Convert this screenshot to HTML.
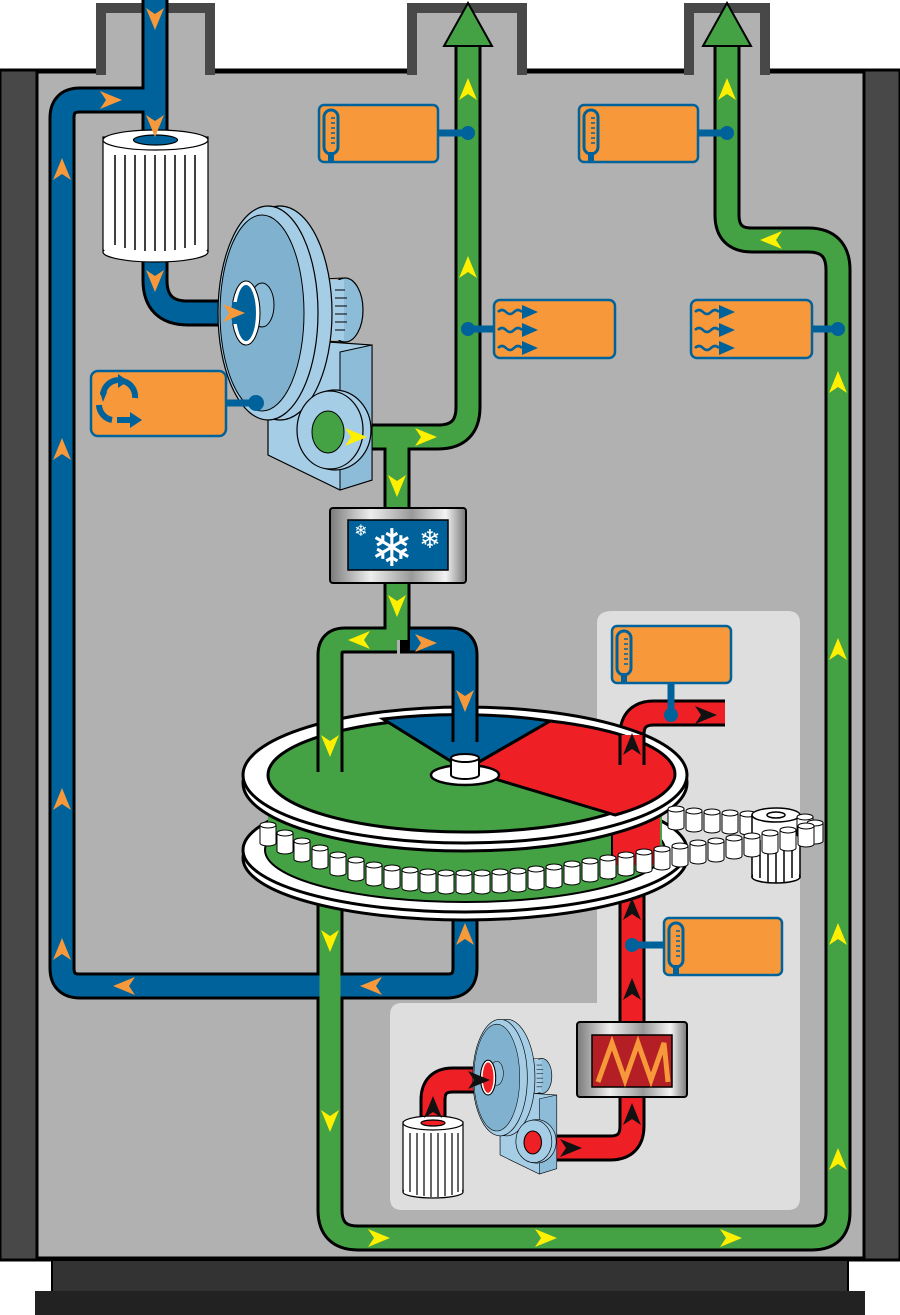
<!DOCTYPE html>
<html><head><meta charset="utf-8"><style>html,body{margin:0;padding:0;background:#fff}svg{display:block}</style></head>
<body>
<svg width="900" height="1315" viewBox="0 0 900 1315" xmlns="http://www.w3.org/2000/svg">
<defs>
<path id="ar" d="M0,-12 L9,10 L0,4 L-9,10Z"/>
<g id="cy"><rect x="-8" y="-9" width="16" height="18" fill="#fff" stroke="#000" stroke-width="1"/><ellipse cx="0" cy="9" rx="8" ry="3" fill="#fff" stroke="#000" stroke-width="1"/><rect x="-7.5" y="-8" width="15" height="17" fill="#fff"/><ellipse cx="0" cy="-9" rx="8" ry="3" fill="#fff" stroke="#000" stroke-width="1"/></g>
<linearGradient id="met" x1="0" x2="1" y1="0" y2="0">
<stop offset="0" stop-color="#7a7a7a"/><stop offset="0.3" stop-color="#eee"/><stop offset="0.6" stop-color="#999"/><stop offset="0.85" stop-color="#f4f4f4"/><stop offset="1" stop-color="#777"/></linearGradient>
<g id="fan">
<polygon points="268,400 300,340 372,345 372,480 340,490 268,455" fill="#a5cde6" stroke="#000" stroke-width="1.2"/>
<polygon points="340,352 372,345 372,480 340,490" fill="#8dbcd9" stroke="#000" stroke-width="1"/>
<ellipse cx="345" cy="310" rx="18" ry="32" fill="#8dbcd9" stroke="#000" stroke-width="1.2"/>
<rect x="320" y="280" width="24" height="60" fill="#a5cde6"/>
<line x1="320" y1="279" x2="344" y2="278" stroke="#000"/><line x1="320" y1="341" x2="344" y2="342" stroke="#000"/>
<g stroke="#000" stroke-width="1"><line x1="335" y1="290" x2="345" y2="290"/><line x1="335" y1="298" x2="347" y2="298"/><line x1="335" y1="306" x2="347" y2="306"/><line x1="335" y1="314" x2="347" y2="314"/><line x1="335" y1="322" x2="347" y2="322"/><line x1="335" y1="330" x2="345" y2="330"/></g>
<ellipse cx="280" cy="313" rx="52" ry="107" fill="#a5cde6" stroke="#000" stroke-width="1.2"/>
<ellipse cx="268" cy="313" rx="50" ry="107" fill="#a5cde6" stroke="#000" stroke-width="1.2"/>
<ellipse cx="262" cy="313" rx="42" ry="98" fill="#80b2cf" stroke="#000" stroke-width="1"/>
<ellipse cx="262" cy="305" rx="12" ry="22" fill="#8dbcd9" stroke="#000" stroke-width="1"/>
<ellipse cx="335" cy="430" rx="36" ry="40" fill="#a5cde6" stroke="#000" stroke-width="1.2"/>
<ellipse cx="330" cy="430" rx="33" ry="39" fill="#a5cde6" stroke="#000" stroke-width="1.2"/>
</g>
</defs>
<rect x="0" y="70" width="900" height="1190" fill="#484848" stroke="#000" stroke-width="3"/>
<rect x="37" y="72" width="827" height="1186" fill="#b1b1b1" stroke="#000" stroke-width="3"/>
<g fill="#b1b1b1" stroke="#484848" stroke-width="10">
<path d="M101,75 V8 H210 V75"/><path d="M412,75 V8 H522 V75"/><path d="M689,75 V8 H765 V75"/>
</g>
<rect x="52" y="1260" width="796" height="32" fill="#333" stroke="#000" stroke-width="2"/>
<rect x="35" y="1291" width="830" height="24" fill="#222"/>
<path d="M612,611 H788 Q800,611 800,623 V1198 Q800,1210 788,1210 H402 Q390,1210 390,1198 V1015 Q390,1003 402,1003 H597 V623 Q597,611 612,611Z" fill="#dedede"/>
<g fill="none" stroke-linejoin="round">
<g stroke="#000" stroke-width="27">
<path d="M155,0 V135"/>
<path d="M155,100 H80 Q62,100 62,118 V968 Q62,986 80,986 H447 Q465,986 465,968 V910"/>
<path d="M155,255 V280 Q155,313 188,313 H245"/>
<path d="M345,437 H438 Q468,437 468,407 V45"/>
<path d="M397,437 V640"/>
<path d="M397,640 H345 Q330,640 330,655 V772"/>
<path d="M400,640 H450 Q465,640 465,655 V742"/>
<path d="M330,900 V1210 Q330,1238 358,1238 H812 Q838,1238 838,1212 V270 Q838,240 808,240 H752 Q727,240 727,215 V45"/>
<path d="M530,1148 H610 Q632,1148 632,1126 V815"/>
<path d="M632,750 V735 Q632,713 654,713 H725"/>
<path d="M433,1120 V1100 Q433,1080 453,1080 H490"/>
</g>
<g stroke-width="21">
<path d="M155,0 V135" stroke="#00629b"/>
<path d="M155,100 H80 Q62,100 62,118 V968 Q62,986 80,986 H447 Q465,986 465,968 V910" stroke="#00629b"/>
<path d="M155,255 V280 Q155,313 188,313 H245" stroke="#00629b"/>
<path d="M345,437 H438 Q468,437 468,407 V45" stroke="#44a244"/>
<path d="M397,437 V640" stroke="#44a244"/>
<path d="M397,640 H345 Q330,640 330,655 V772" stroke="#44a244"/>
<path d="M410,640 H450 Q465,640 465,655 V742" stroke="#00629b"/>
<path d="M330,900 V1210 Q330,1238 358,1238 H812 Q838,1238 838,1212 V270 Q838,240 808,240 H752 Q727,240 727,215 V45" stroke="#44a244"/>
<path d="M530,1148 H610 Q632,1148 632,1126 V815" stroke="#ee2025"/>
<path d="M632,750 V735 Q632,713 654,713 H725" stroke="#ee2025"/>
<path d="M433,1120 V1100 Q433,1080 453,1080 H490" stroke="#ee2025"/>
</g>
</g>
<polygon points="468,3 492,46 444,46" fill="#44a244" stroke="#000" stroke-width="2"/>
<polygon points="727,3 751,46 703,46" fill="#44a244" stroke="#000" stroke-width="2"/>
<g stroke="#000" stroke-width="1.2">
<rect x="103" y="137" width="105" height="115" fill="#fff"/>
<ellipse cx="155.5" cy="252" rx="52.5" ry="10" fill="#fff"/>
<rect x="104" y="140" width="103" height="110" fill="#fff" stroke="none"/>
<ellipse cx="155.5" cy="140" rx="52.5" ry="10" fill="#fff"/>
<ellipse cx="155.5" cy="140" rx="22" ry="5" fill="#00629b"/>
<g stroke-width="1.5"><line x1="115" y1="155" x2="115" y2="245"/><line x1="125" y1="155" x2="125" y2="248"/><line x1="135" y1="155" x2="135" y2="250"/><line x1="145" y1="155" x2="145" y2="251"/><line x1="155" y1="155" x2="155" y2="251"/><line x1="165" y1="155" x2="165" y2="251"/><line x1="175" y1="155" x2="175" y2="250"/><line x1="185" y1="155" x2="185" y2="248"/><line x1="195" y1="155" x2="195" y2="245"/></g>
</g>
<use href="#fan"/>
<ellipse cx="246" cy="313" rx="14" ry="32" fill="#fff" stroke="#000"/>
<ellipse cx="246" cy="313" rx="10" ry="28" fill="#00629b"/>
<path d="M245,302 H232 V324 H245" fill="#00629b"/>
<ellipse cx="328" cy="432" rx="16" ry="21" fill="#44a244" stroke="#000"/>
<g transform="translate(354,907) scale(0.545)"><use href="#fan"/>
<ellipse cx="246" cy="313" rx="14" ry="32" fill="#fff" stroke="#000" stroke-width="2"/>
<ellipse cx="246" cy="313" rx="10" ry="28" fill="#ee2025"/>
<ellipse cx="328" cy="432" rx="16" ry="21" fill="#ee2025" stroke="#000" stroke-width="2"/></g>
<g stroke="#000" stroke-width="1.2">
<rect x="403" y="1122" width="60" height="70" fill="#fff"/>
<ellipse cx="433" cy="1192" rx="30" ry="6" fill="#fff"/>
<rect x="404" y="1124" width="58" height="68" fill="#fff" stroke="none"/>
<ellipse cx="433" cy="1123" rx="30" ry="7" fill="#fff"/>
<ellipse cx="433" cy="1123" rx="12" ry="3" fill="#ee2025"/>
<g><line x1="410" y1="1133" x2="410" y2="1192"/><line x1="417" y1="1133" x2="417" y2="1195"/><line x1="424" y1="1133" x2="424" y2="1196"/><line x1="431" y1="1133" x2="431" y2="1197"/><line x1="438" y1="1133" x2="438" y2="1197"/><line x1="445" y1="1133" x2="445" y2="1196"/><line x1="452" y1="1133" x2="452" y2="1195"/><line x1="458" y1="1133" x2="458" y2="1192"/></g>
</g>
<rect x="330" y="508" width="136" height="75" rx="3" fill="url(#met)" stroke="#000" stroke-width="2"/>
<rect x="348" y="520" width="100" height="50" fill="#00629b" stroke="#000" stroke-width="1.5"/>
<text x="392" y="566" font-family="DejaVu Sans, sans-serif" font-size="52" fill="#fff" text-anchor="middle">❄</text>
<text x="361" y="536" font-family="DejaVu Sans, sans-serif" font-size="16" fill="#fff" text-anchor="middle">❄</text>
<text x="430" y="548" font-family="DejaVu Sans, sans-serif" font-size="26" fill="#fff" text-anchor="middle">❄</text>
<rect x="577" y="1022" width="110" height="75" rx="3" fill="url(#met)" stroke="#000" stroke-width="2"/>
<rect x="592" y="1035" width="80" height="52" fill="#b31f24" stroke="#000" stroke-width="1.5"/>
<path d="M598,1082 L612,1043 L625,1080 L638,1043 L651,1080 L664,1043 L668,1082" fill="none" stroke="#f7993a" stroke-width="5"/>
<ellipse cx="465" cy="858" rx="222" ry="62" fill="#fff" stroke="#000" stroke-width="3"/>
<ellipse cx="465" cy="850" rx="222" ry="62" fill="#fff" stroke="#000" stroke-width="3"/>
<ellipse cx="465" cy="850" rx="200" ry="52" fill="#44a244" stroke="#000" stroke-width="2"/>
<rect x="268" y="780" width="394" height="70" fill="#44a244"/>
<rect x="612" y="790" width="48" height="75" fill="#ee2025"/>
<line x1="612" y1="815" x2="612" y2="880" stroke="#000" stroke-width="2"/>
<ellipse cx="465" cy="783" rx="222" ry="68" fill="#fff" stroke="#000" stroke-width="3"/>
<ellipse cx="465" cy="775" rx="222" ry="68" fill="#fff" stroke="#000" stroke-width="3"/>
<ellipse cx="465" cy="775" rx="197" ry="57" fill="#44a244" stroke="#000" stroke-width="3"/>
<path d="M465,770 L550,721 A197,57 0 0 1 615,815 Z" fill="#ee2025" stroke="#000" stroke-width="3"/>
<path d="M465,770 L383,719 A197,57 0 0 1 550,721 Z" fill="#00629b" stroke="#000" stroke-width="3"/>
<g fill="none"><path d="M330,700 V772" stroke="#000" stroke-width="27"/><path d="M330,700 V775" stroke="#44a244" stroke-width="21"/>
<path d="M465,700 V742" stroke="#000" stroke-width="27"/><path d="M465,700 V745" stroke="#00629b" stroke-width="21"/>
<path d="M632,735 V765" stroke="#000" stroke-width="27"/><path d="M632,735 V767" stroke="#ee2025" stroke-width="21"/></g>
<ellipse cx="465" cy="775" rx="34" ry="10" fill="#fff" stroke="#000" stroke-width="2.5"/>
<path d="M451,758 V775 A14,4 0 0 0 479,775 V758" fill="#fff" stroke="#000" stroke-width="2"/>
<ellipse cx="465" cy="758" rx="14" ry="4" fill="#fff" stroke="#000" stroke-width="2"/>
<!-- chain back row -->
<use href="#cy" x="676" y="818"/><use href="#cy" x="694" y="820"/><use href="#cy" x="712" y="821"/><use href="#cy" x="730" y="822"/><use href="#cy" x="748" y="823"/>
<g stroke="#000" stroke-width="1.5">
<rect x="752" y="815" width="48" height="62" fill="#fff"/>
<ellipse cx="776" cy="877" rx="24" ry="6" fill="#fff"/>
<rect x="753" y="818" width="46" height="58" fill="#fff" stroke="none"/>
<line x1="760" y1="840" x2="760" y2="878"/><line x1="768" y1="840" x2="768" y2="882"/><line x1="776" y1="840" x2="776" y2="883"/><line x1="784" y1="840" x2="784" y2="882"/><line x1="792" y1="840" x2="792" y2="878"/>
<ellipse cx="776" cy="815" rx="24" ry="7" fill="#fff"/>
<ellipse cx="776" cy="815" rx="9" ry="3" fill="#fff"/>
</g>
<use href="#cy" x="805" y="826"/><use href="#cy" x="815" y="832"/>
<!-- chain front row -->
<use href="#cy" x="268" y="834"/><use href="#cy" x="285" y="842"/><use href="#cy" x="302" y="850"/><use href="#cy" x="320" y="857"/><use href="#cy" x="338" y="864"/><use href="#cy" x="356" y="869"/><use href="#cy" x="374" y="874"/><use href="#cy" x="392" y="877"/><use href="#cy" x="410" y="879"/><use href="#cy" x="428" y="881"/><use href="#cy" x="446" y="882"/><use href="#cy" x="464" y="882"/><use href="#cy" x="482" y="882"/><use href="#cy" x="500" y="881"/><use href="#cy" x="518" y="880"/><use href="#cy" x="536" y="878"/><use href="#cy" x="554" y="876"/><use href="#cy" x="572" y="873"/><use href="#cy" x="590" y="870"/><use href="#cy" x="608" y="867"/><use href="#cy" x="626" y="864"/><use href="#cy" x="644" y="861"/><use href="#cy" x="662" y="858"/><use href="#cy" x="680" y="855"/><use href="#cy" x="698" y="852"/><use href="#cy" x="716" y="850"/><use href="#cy" x="734" y="847"/><use href="#cy" x="752" y="845"/><use href="#cy" x="770" y="842"/><use href="#cy" x="788" y="839"/><use href="#cy" x="806" y="835"/>
<g fill="#f7993a" stroke="#00629b" stroke-width="2.5">
<rect x="319" y="105" width="119" height="57" rx="5"/>
<rect x="579" y="105" width="119" height="57" rx="5"/>
<rect x="494" y="300" width="121" height="58" rx="6"/>
<rect x="691" y="300" width="121" height="58" rx="6"/>
<rect x="91" y="371" width="135" height="65" rx="7"/>
<rect x="612" y="626" width="119" height="57" rx="5"/>
<rect x="664" y="918" width="118" height="57" rx="5"/>
</g>
<g stroke="#00629b" stroke-width="7" fill="#00629b">
<line x1="438" y1="133" x2="468" y2="133"/><circle cx="468" cy="133" r="7" stroke="none"/>
<line x1="698" y1="133" x2="727" y2="133"/><circle cx="727" cy="133" r="7" stroke="none"/>
<line x1="468" y1="329" x2="494" y2="329"/><circle cx="468" cy="329" r="7" stroke="none"/>
<line x1="812" y1="329" x2="838" y2="329"/><circle cx="838" cy="329" r="7" stroke="none"/>
<line x1="226" y1="403" x2="256" y2="403"/><circle cx="256" cy="403" r="8" stroke="none"/>
<line x1="671" y1="683" x2="671" y2="713"/><circle cx="671" cy="715" r="7" stroke="none"/>
<line x1="632" y1="945" x2="664" y2="945"/><circle cx="632" cy="945" r="7" stroke="none"/>
</g>
<g fill="none" stroke="#00629b" stroke-width="3">
<rect x="324" y="110" width="14" height="44" rx="7"/><rect x="584" y="110" width="14" height="44" rx="7"/>
<rect x="617" y="631" width="14" height="44" rx="7"/><rect x="669" y="923" width="14" height="44" rx="7"/>
</g>
<g stroke="#00629b" stroke-width="1.5">
<path d="M331,118 h4 M331,123 h4 M331,128 h4 M331,133 h4 M331,138 h4 M331,143 h4"/>
<path d="M591,118 h4 M591,123 h4 M591,128 h4 M591,133 h4 M591,138 h4 M591,143 h4"/>
<path d="M624,639 h4 M624,644 h4 M624,649 h4 M624,654 h4 M624,659 h4 M624,664 h4"/>
<path d="M676,931 h4 M676,936 h4 M676,941 h4 M676,946 h4 M676,951 h4 M676,956 h4"/>
</g>
<g fill="#00629b"><rect x="328" y="152" width="6" height="9"/><rect x="588" y="152" width="6" height="9"/><rect x="621" y="673" width="6" height="9"/><rect x="673" y="965" width="6" height="9"/></g>
<g fill="none" stroke="#00629b" stroke-width="2.5">
<path d="M498,312 q4,-4 8,0 t8,0 t8,0"/><path d="M498,330 q4,-4 8,0 t8,0 t8,0"/><path d="M498,348 q4,-4 8,0 t8,0 t8,0"/>
<path d="M695,312 q4,-4 8,0 t8,0 t8,0"/><path d="M695,330 q4,-4 8,0 t8,0 t8,0"/><path d="M695,348 q4,-4 8,0 t8,0 t8,0"/>
</g>
<g fill="#00629b">
<polygon points="522,305 538,312 522,319"/><polygon points="522,323 538,330 522,337"/><polygon points="522,341 538,348 522,355"/>
<polygon points="719,305 735,312 719,319"/><polygon points="719,323 735,330 719,337"/><polygon points="719,341 735,348 719,355"/>
</g>
<g fill="none" stroke="#00629b" stroke-width="6">
<path d="M103,395 A16,16 0 0 1 118,380"/><path d="M123,381 A16,16 0 0 1 135,398"/><path d="M99,405 A16,16 0 0 0 112,420"/>
</g>
<polygon points="118,374 128,381 118,388" fill="#00629b"/>
<polygon points="100,392 107,392 103,402" fill="#00629b"/>
<rect x="117" y="417" width="14" height="6" fill="#00629b"/><polygon points="130,412 142,420 130,428" fill="#00629b"/>
<g fill="#f7993a">
<use href="#ar" transform="translate(155,18) rotate(180)"/><use href="#ar" transform="translate(155,125) rotate(180)"/>
<use href="#ar" transform="translate(110,100) rotate(90)"/><use href="#ar" transform="translate(62,170)"/>
<use href="#ar" transform="translate(62,450)"/><use href="#ar" transform="translate(62,800)"/><use href="#ar" transform="translate(62,950)"/>
<use href="#ar" transform="translate(125,986) rotate(-90)"/><use href="#ar" transform="translate(372,986) rotate(-90)"/>
<use href="#ar" transform="translate(465,935)"/><use href="#ar" transform="translate(155,280) rotate(180)"/>
<use href="#ar" transform="translate(233,313) rotate(90)"/><use href="#ar" transform="translate(425,643) rotate(90)"/>
<use href="#ar" transform="translate(465,700) rotate(180)"/>
</g>
<g fill="#ffef00">
<use href="#ar" transform="translate(468,90)"/><use href="#ar" transform="translate(468,268)"/>
<use href="#ar" transform="translate(355,437) rotate(90)"/><use href="#ar" transform="translate(425,437) rotate(90)"/>
<use href="#ar" transform="translate(397,485) rotate(180)"/><use href="#ar" transform="translate(397,605) rotate(180)"/>
<use href="#ar" transform="translate(360,640) rotate(-90)"/><use href="#ar" transform="translate(330,745) rotate(180)"/>
<use href="#ar" transform="translate(330,940) rotate(180)"/><use href="#ar" transform="translate(330,1120) rotate(180)"/>
<use href="#ar" transform="translate(378,1238) rotate(90)"/><use href="#ar" transform="translate(545,1238) rotate(90)"/><use href="#ar" transform="translate(730,1238) rotate(90)"/>
<use href="#ar" transform="translate(838,1160)"/><use href="#ar" transform="translate(838,935)"/><use href="#ar" transform="translate(838,650)"/><use href="#ar" transform="translate(838,383)"/>
<use href="#ar" transform="translate(772,240) rotate(-90)"/><use href="#ar" transform="translate(727,90)"/>
</g>
<g fill="#111">
<use href="#ar" transform="translate(632,745)"/><use href="#ar" transform="translate(632,910)"/><use href="#ar" transform="translate(632,990)"/><use href="#ar" transform="translate(632,1115)"/>
<use href="#ar" transform="translate(705,715) rotate(90)"/><use href="#ar" transform="translate(570,1148) rotate(90)"/>
<use href="#ar" transform="translate(433,1108)"/><use href="#ar" transform="translate(478,1080) rotate(90)"/>
</g>
</svg>
</body></html>
